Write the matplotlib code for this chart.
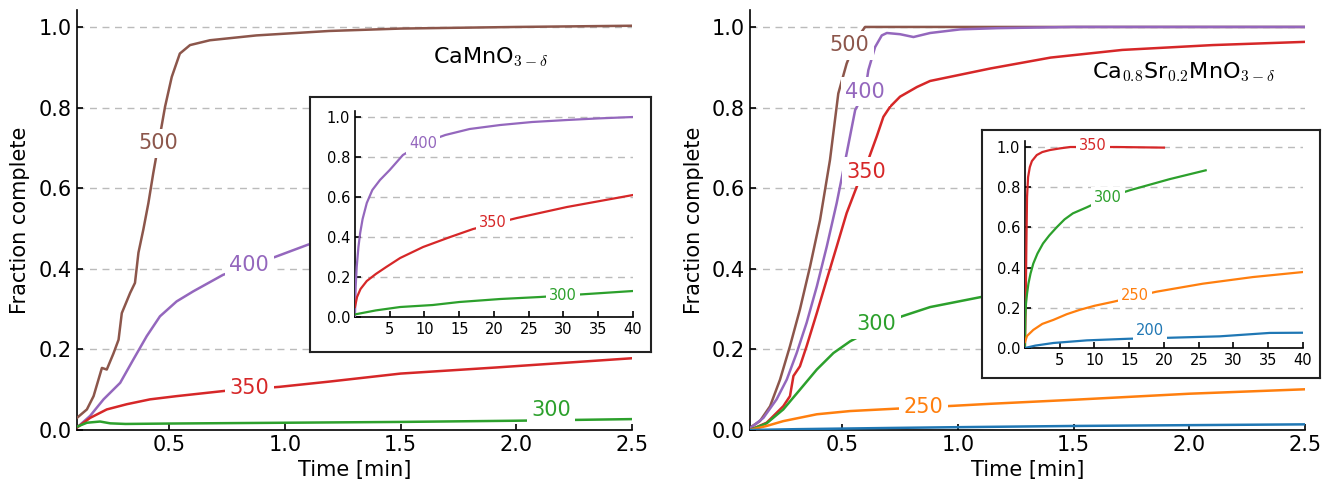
import numpy as np
import matplotlib
matplotlib.use('Agg')
import matplotlib.pyplot as plt

plt.rcParams['font.family'] = ['DejaVu Sans']
plt.rcParams['mathtext.fontset'] = 'cm'

# colours of the temperature series
colors = {'200': '#1f77b4', '250': '#ff7f0e', '300': '#2ca02c',
          '350': '#d62728', '400': '#9467bd', '500': '#8c564b'}

# ---- CaMnO3-d, main panel (time in min) ----
a_t500 = [0.1, 0.143, 0.172, 0.208, 0.229, 0.258, 0.28, 0.294, 0.33, 0.351, 0.366, 0.387,
          0.409, 0.43, 0.481, 0.51, 0.545, 0.589, 0.675, 0.876, 1.19, 1.5, 2.0, 2.5]
a_f500 = [0.03, 0.051, 0.084, 0.154, 0.15, 0.19, 0.224, 0.29, 0.34, 0.365, 0.44, 0.497,
          0.563, 0.637, 0.802, 0.876, 0.934, 0.955, 0.967, 0.979, 0.99, 0.996, 1.0, 1.003]
a_t400 = [0.1, 0.157, 0.215, 0.287, 0.344, 0.402, 0.459, 0.531, 0.603, 0.732, 0.96, 1.1, 1.5, 2.0, 2.5]
a_f400 = [0.006, 0.035, 0.076, 0.117, 0.175, 0.233, 0.282, 0.319, 0.344, 0.385, 0.43, 0.46, 0.52, 0.58, 0.63]
a_t350 = [0.1, 0.157, 0.229, 0.316, 0.416, 0.531, 0.739, 0.975, 1.19, 1.5, 1.91, 2.5]
a_f350 = [0.006, 0.03, 0.051, 0.064, 0.076, 0.084, 0.097, 0.107, 0.12, 0.14, 0.155, 0.178]
a_t300 = [0.1, 0.143, 0.2, 0.244, 0.31, 0.5, 1.0, 1.5, 2.0, 2.5]
a_f300 = [0.008, 0.018, 0.021, 0.0165, 0.015, 0.016, 0.018, 0.02, 0.023, 0.027]

# ---- CaMnO3-d, inset (time in min) ----
ai_t400 = [0, 0.1, 0.25, 0.5, 0.75, 1.1, 1.7, 2.5, 3.6, 5.0, 6.9, 9.8, 13, 16.5, 20.9, 25.5, 30.5, 35, 40]
ai_f400 = [0.0, 0.15, 0.25, 0.35, 0.42, 0.49, 0.57, 0.635, 0.685, 0.735, 0.81, 0.87, 0.91, 0.94,
           0.96, 0.975, 0.985, 0.993, 1.0]
ai_t350 = [0, 0.3, 0.8, 1.7, 3, 4.5, 6.5, 9.8, 13.7, 17, 23.3, 30.5, 40]
ai_f350 = [0.05, 0.1, 0.14, 0.18, 0.215, 0.25, 0.295, 0.35, 0.40, 0.44, 0.495, 0.55, 0.61]
ai_t300 = [0, 3, 6.5, 11.2, 15, 20.9, 26.6, 33.4, 40]
ai_f300 = [0.013, 0.033, 0.05, 0.06, 0.075, 0.09, 0.1, 0.115, 0.13]

# ---- Ca0.8Sr0.2MnO3-d, main panel ----
b_t500 = [0.1, 0.143, 0.187, 0.23, 0.273, 0.316, 0.36, 0.403, 0.446, 0.482, 0.518, 0.56, 0.598,
          0.8, 1.5, 2.5]
b_f500 = [0.006, 0.022, 0.059, 0.125, 0.208, 0.299, 0.406, 0.521, 0.67, 0.835, 0.909, 0.97, 1.0,
          1.0, 1.0, 1.0]
b_t400 = [0.1, 0.158, 0.215, 0.259, 0.302, 0.345, 0.389, 0.432, 0.475, 0.518, 0.555, 0.598,
          0.612, 0.641, 0.67, 0.692, 0.749, 0.807, 0.879, 1.01, 1.17, 1.5, 2.5]
b_f400 = [0.004, 0.03, 0.076, 0.125, 0.191, 0.266, 0.356, 0.455, 0.563, 0.686, 0.794, 0.84,
          0.893, 0.95, 0.979, 0.985, 0.982, 0.975, 0.985, 0.994, 0.997, 1.0, 1.0]
b_t350 = [0.1, 0.172, 0.244, 0.273, 0.288, 0.316, 0.345, 0.389, 0.432, 0.475, 0.518, 0.562,
          0.605, 0.648, 0.677, 0.706, 0.749, 0.822, 0.879, 1.14, 1.4, 1.71, 2.1, 2.5]
b_f350 = [0.0, 0.018, 0.059, 0.084, 0.134, 0.158, 0.208, 0.29, 0.373, 0.455, 0.538, 0.604,
          0.66, 0.728, 0.777, 0.802, 0.827, 0.851, 0.866, 0.897, 0.924, 0.943, 0.955, 0.963]
b_t300 = [0.1, 0.172, 0.244, 0.316, 0.389, 0.461, 0.533, 0.648, 0.757, 0.879, 1.1, 1.5, 2.0, 2.5]
b_f300 = [0.0, 0.0165, 0.051, 0.1, 0.15, 0.191, 0.22, 0.255, 0.282, 0.305, 0.33, 0.37, 0.41, 0.45]
b_t250 = [0.1, 0.172, 0.244, 0.389, 0.533, 0.735, 0.98, 1.14, 1.5, 2.0, 2.5]
b_f250 = [0.0, 0.01, 0.022, 0.039, 0.047, 0.053, 0.06, 0.065, 0.075, 0.09, 0.101]
b_t200 = [0.1, 0.3, 0.7, 1.0, 1.5, 2.0, 2.5]
b_f200 = [0.0, 0.002, 0.005, 0.007, 0.01, 0.012, 0.014]

# ---- Ca0.8Sr0.2MnO3-d, inset ----
bi_t350 = [0, 0.1, 0.2, 0.3, 0.45, 0.7, 1.0, 1.7, 2.5, 3.6, 5.0, 6.5, 13.2, 20]
bi_f350 = [0.0, 0.2, 0.5, 0.75, 0.85, 0.9, 0.93, 0.96, 0.975, 0.985, 0.993, 1.0, 1.0, 0.997]
bi_t300 = [0, 0.05, 0.15, 0.3, 0.5, 0.8, 1.2, 1.8, 2.6, 3.5, 4.55, 5.7, 6.9, 8.9, 12, 15.1, 20.8, 26]
bi_f300 = [0.0, 0.15, 0.22, 0.27, 0.32, 0.37, 0.42, 0.47, 0.52, 0.56, 0.6, 0.64, 0.67, 0.70,
           0.75, 0.785, 0.84, 0.884]
bi_t250 = [0, 0.3, 1.2, 2.5, 4.1, 6.0, 7.9, 10, 12.7, 15.8, 18.9, 25.6, 32.8, 40]
bi_f250 = [0.03, 0.06, 0.09, 0.12, 0.14, 0.168, 0.19, 0.21, 0.23, 0.255, 0.28, 0.32, 0.353, 0.378]
bi_t200 = [0, 1.5, 4.1, 8.9, 14.9, 20.8, 28, 35.2, 40]
bi_f200 = [0.0, 0.012, 0.025, 0.038, 0.046, 0.051, 0.058, 0.075, 0.076]

# inline label positions (x, y)
a_labels = {'500': (0.452, 0.711), '400': (0.845, 0.41), '350': (0.845, 0.104), '300': (2.15, 0.05)}
ai_labels = {'400': (9.8, 0.87), '350': (19.9, 0.475), '300': (29.9, 0.11)}
b_labels = {'500': (0.53, 0.955), '400': (0.598, 0.839), '350': (0.605, 0.641),
            '300': (0.648, 0.262), '250': (0.85, 0.058)}
bi_labels = {'350': (9.8, 1.008), '300': (12.0, 0.748), '250': (15.8, 0.262), '200': (18.0, 0.085)}

fig = plt.figure(figsize=(13.22, 4.82), dpi=100)


def style_axes(ax, fs):
    for s in ['top', 'right']:
        ax.spines[s].set_visible(False)
    for s in ['left', 'bottom']:
        ax.spines[s].set_linewidth(1.2)
    ax.tick_params(direction='in', length=4, width=1.2, labelsize=fs)
    ax.set_yticks([0.0, 0.2, 0.4, 0.6, 0.8, 1.0])
    ax.yaxis.grid(True, ls=(0, (5, 4)), color='#bbbbbb', lw=1)
    ax.set_axisbelow(True)


def put_labels(ax, labels, fs):
    for name, (x, y) in labels.items():
        ax.text(x, y, name, color=colors[name], fontsize=fs, ha='center', va='center',
                zorder=6, bbox=dict(boxstyle='square,pad=0.22', fc='white', ec='none'))


def make_panel(rect, series, labels, title, title_pos):
    ax = fig.add_axes(rect)
    for name, t, f in series:
        ax.plot(t, f, color=colors[name], lw=1.8, zorder=3)
    style_axes(ax, 15)
    ax.set_xlim(0.1, 2.5)
    ax.set_ylim(0, 1.042)
    ax.set_xticks([0.5, 1.0, 1.5, 2.0, 2.5])
    ax.set_xlabel('Time [min]', fontsize=15, labelpad=4)
    ax.set_ylabel('Fraction complete', fontsize=15, labelpad=6)
    put_labels(ax, labels, 15)
    ax.text(title_pos[0], title_pos[1], title, fontsize=16, ha='center', va='center')
    return ax


def make_inset(box_rect, rect, series, labels):
    box = fig.add_axes(box_rect, zorder=5)
    box.set_xticks([])
    box.set_yticks([])
    for s in box.spines.values():
        s.set_linewidth(1.5)
        s.set_color('#222222')
    ax = fig.add_axes(rect, zorder=6)
    ax.patch.set_alpha(0)
    for name, t, f in series:
        ax.plot(t, f, color=colors[name], lw=1.6, zorder=3)
    style_axes(ax, 10.5)
    ax.set_xlim(0, 40)
    ax.set_ylim(0, 1.03)
    ax.set_xticks([5, 10, 15, 20, 25, 30, 35, 40])
    put_labels(ax, labels, 10.5)
    return ax


make_panel([0.0582, 0.1079, 0.4198, 0.8713],
           [('500', a_t500, a_f500), ('400', a_t400, a_f400),
            ('350', a_t350, a_f350), ('300', a_t300, a_f300)],
           a_labels, r'CaMnO$_{3-\delta}$', (1.89, 0.925))
make_inset([0.2345, 0.2697, 0.258, 0.529], [0.2685, 0.3423, 0.2103, 0.4274],
           [('400', ai_t400, ai_f400), ('350', ai_t350, ai_f350), ('300', ai_t300, ai_f300)],
           ai_labels)

make_panel([0.5673, 0.1079, 0.4198, 0.8713],
           [('500', b_t500, b_f500), ('400', b_t400, b_f400), ('350', b_t350, b_f350),
            ('300', b_t300, b_f300), ('250', b_t250, b_f250), ('200', b_t200, b_f200)],
           b_labels, r'Ca$_{0.8}$Sr$_{0.2}$MnO$_{3-\delta}$', (1.975, 0.888))
make_inset([0.7428, 0.2158, 0.2557, 0.5145], [0.7753, 0.278, 0.2103, 0.4295],
           [('350', bi_t350, bi_f350), ('300', bi_t300, bi_f300),
            ('250', bi_t250, bi_f250), ('200', bi_t200, bi_f200)],
           bi_labels)

fig.savefig('out.png', dpi=100)
